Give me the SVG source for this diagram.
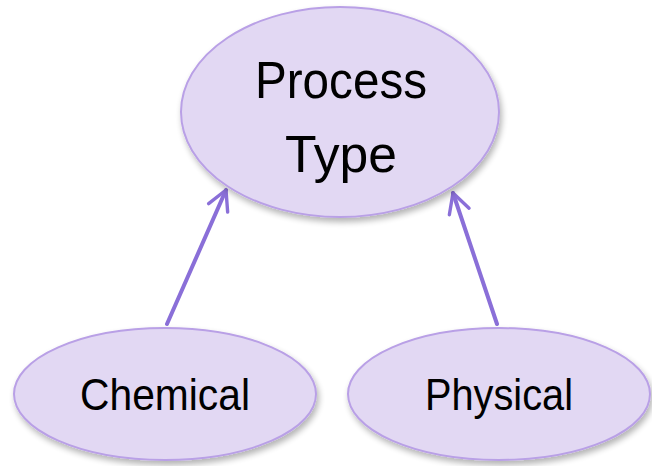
<svg xmlns="http://www.w3.org/2000/svg" width="652" height="466" viewBox="0 0 652 466">
  <style>
    .node { fill: #e2d8f3; stroke: #b9a0e6; stroke-width: 2; filter: url(#shadow); }
    .label { font-family: "Liberation Sans", "DejaVu Sans", sans-serif; fill: #000; text-anchor: middle; }
    .link { stroke: #8a6fd8; stroke-width: 4; fill: none; stroke-linecap: round; marker-end: url(#chevron); }
  </style>
  <defs>
    <filter id="shadow" x="-10%" y="-10%" width="125%" height="130%">
      <feGaussianBlur in="SourceAlpha" stdDeviation="3"/>
      <feOffset dx="2" dy="4" result="blur"/>
      <feComponentTransfer><feFuncA type="linear" slope="0.3"/></feComponentTransfer>
      <feMerge><feMergeNode/><feMergeNode in="SourceGraphic"/></feMerge>
    </filter>
    <marker id="chevron" viewBox="0 0 10 10" refX="9" refY="5" markerWidth="6.5" markerHeight="6.5" orient="auto" markerUnits="strokeWidth">
      <path d="M1.5,1 L9,5 L1.5,9" fill="none" stroke="#8a6fd8" stroke-width="1.3" stroke-linecap="round" stroke-linejoin="round"/>
    </marker>
  </defs>

  <g id="connectors">
    <line class="link" x1="167" y1="324" x2="226" y2="190"/>
    <line class="link" x1="497" y1="324" x2="453" y2="193"/>
  </g>

  <g id="process-type">
    <ellipse class="node" cx="340" cy="112" rx="159" ry="105"/>
    <text class="label" x="341" y="98" font-size="52" textLength="172" lengthAdjust="spacingAndGlyphs">Process</text>
    <text class="label" x="341" y="172" font-size="52" textLength="112" lengthAdjust="spacingAndGlyphs">Type</text>
  </g>

  <g id="chemical">
    <ellipse class="node" cx="165" cy="394" rx="151" ry="66"/>
    <text class="label" x="165" y="410" font-size="44" textLength="170" lengthAdjust="spacingAndGlyphs">Chemical</text>
  </g>

  <g id="physical">
    <ellipse class="node" cx="499" cy="394" rx="151" ry="66"/>
    <text class="label" x="499" y="410" font-size="44" textLength="148" lengthAdjust="spacingAndGlyphs">Physical</text>
  </g>
</svg>
